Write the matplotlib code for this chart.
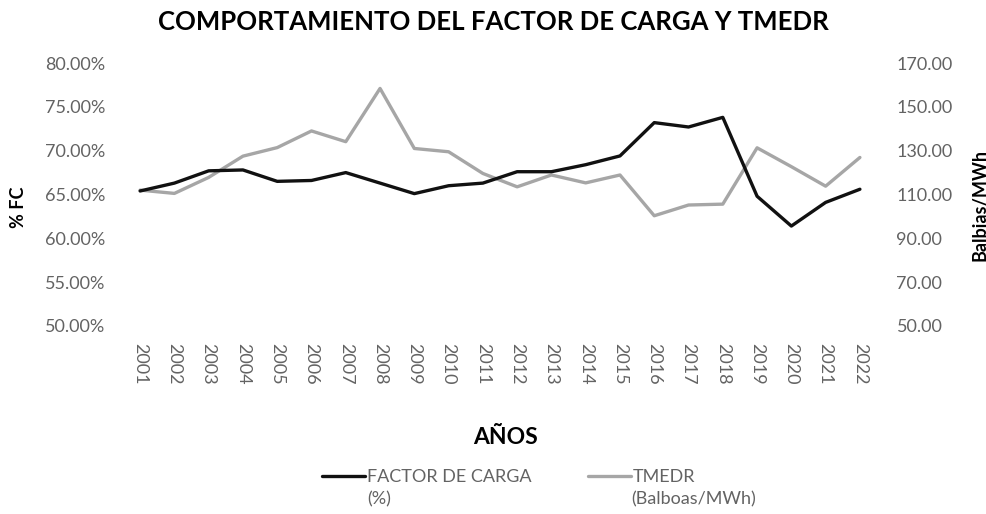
import matplotlib.pyplot as plt
from matplotlib.ticker import FuncFormatter

plt.rcParams['font.family'] = ['Lato', 'DejaVu Sans']

# data
years = [str(y) for y in range(2001, 2023)]
factor_carga = [65.4, 66.3, 67.7, 67.8, 66.5, 66.6, 67.5, 66.3, 65.1, 66.0, 66.3, 67.6,
                67.6, 68.4, 69.4, 73.2, 72.7, 73.8, 64.8, 61.4, 64.1, 65.6]
tmedr = [112.0, 110.5, 117.8, 127.5, 131.4, 139.0, 134.1, 158.4, 131.0, 129.5, 119.6, 113.5,
         118.9, 115.3, 118.9, 100.3, 105.2, 105.6, 131.3, 122.7, 113.8, 126.9]

tick_color = '#636363'

fig = plt.figure(figsize=(9.87, 5.14), dpi=100)
ax = fig.add_axes([0.1246, 0.3658, 0.764, 0.5116])
ax2 = ax.twinx()

x = list(range(len(years)))
ax.plot(x, factor_carga, color='#111111', lw=2.4, solid_capstyle='round', zorder=3)
ax2.plot(x, tmedr, color='#a6a6a6', lw=2.4, solid_capstyle='round', zorder=2)
ax.set_zorder(ax2.get_zorder() + 1)
ax.patch.set_visible(False)

ax.set_xlim(-0.5, len(years) - 0.5)
ax.set_ylim(50, 80)
ax.set_yticks(range(50, 81, 5))
ax.yaxis.set_major_formatter(FuncFormatter(lambda v, p: '%.2f%%' % v))
ax2.set_ylim(50, 170)
ax2.set_yticks(range(50, 171, 20))
ax2.yaxis.set_major_formatter(FuncFormatter(lambda v, p: '%.2f' % v))

ax.set_xticks(x)
ax.set_xticklabels(years, rotation=-90)

for a in (ax, ax2):
    for s in a.spines.values():
        s.set_visible(False)
    a.tick_params(length=0, labelsize=13, labelcolor=tick_color)
ax.tick_params(axis='y', pad=13)
ax.tick_params(axis='x', pad=12)
ax2.tick_params(axis='y', pad=14)

ax.set_ylabel('% FC', fontsize=13, fontweight='bold')
ax.yaxis.set_label_coords(-0.127, 0.45)
ax2.set_ylabel('Balbias/MWh', fontsize=13, fontweight='bold')
ax2.yaxis.set_label_coords(1.125, 0.46)

fig.text(0.5, 0.957, 'COMPORTAMIENTO DEL FACTOR DE CARGA Y TMEDR', ha='center', va='center',
         fontsize=18.5, fontweight='bold')
fig.text(0.512, 0.148, 'AÑOS', ha='center', va='center', fontsize=16.5, fontweight='bold')

leg = fig.legend(['FACTOR DE CARGA', 'TMEDR'], loc='center', bbox_to_anchor=(0.5154, 0.072),
                 ncol=2, frameon=False, fontsize=13, handlelength=2.4, handletextpad=0.1,
                 columnspacing=3.1)
for t in leg.get_texts():
    t.set_color(tick_color)
fig.text(0.372, 0.018, '(%)', fontsize=13, color=tick_color)
fig.text(0.640, 0.018, '(Balboas/MWh)', fontsize=13, color=tick_color)

fig.savefig('out.png', dpi=100)
